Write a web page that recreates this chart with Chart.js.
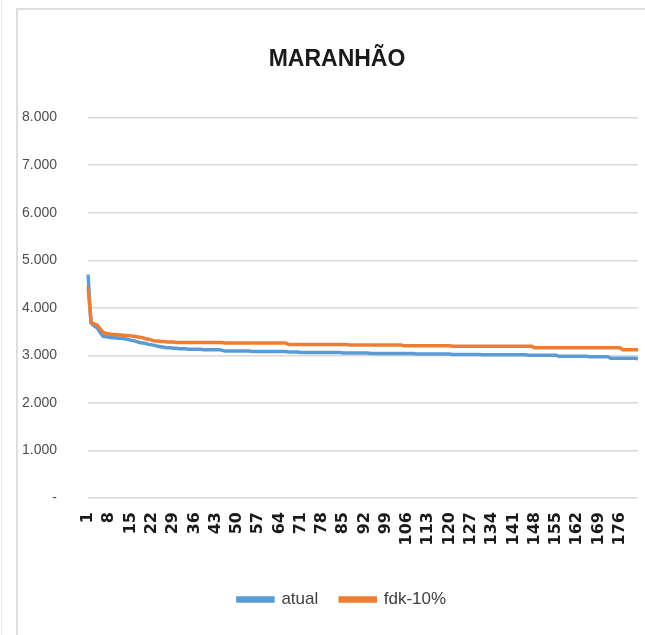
<!DOCTYPE html>
<html>
<head>
<meta charset="utf-8">
<script src="https://cdn.jsdelivr.net/npm/chart.js@4.4.1/dist/chart.umd.min.js"></script>
<style>
  html, body { margin: 0; padding: 0; background: #fff; }
  #wrap { position: relative; width: 645px; height: 635px; overflow: hidden; }
  canvas { position: absolute; left: 0; top: 0; }
  #frame { position: absolute; left: 16px; top: 8px; width: 700px; height: 700px;
           border-left: 2px solid #dedede; border-top: 2px solid #dedede; pointer-events: none; }
  #edge { position: absolute; left: 1px; top: 0; width: 1px; height: 635px; background: #e6e6e6; }
</style>
</head>
<body>
<div id="wrap">
  <canvas id="chart" width="645" height="635"></canvas>
  <div id="frame"></div>
  <div id="edge"></div>
</div>
<script>
const TITLE = "MARANHÃO";
const SERIES_NAMES = ["atual", "fdk-10%"];
const COLORS = ["#5b9bd5", "#ed7d31"];
const Y_TICKS = [0, 1000, 2000, 3000, 4000, 5000, 6000, 7000, 8000];

const ATUAL = [
  4700, 3680, 3620, 3580, 3480, 3400, 3390, 3380, 3370, 3370,
  3360, 3360, 3350, 3340, 3320, 3310, 3290, 3270, 3260, 3250,
  3230, 3220, 3210, 3190, 3180, 3170, 3160, 3160, 3150, 3150,
  3140, 3140, 3140, 3130, 3130, 3130, 3130, 3130, 3120, 3120,
  3120, 3120, 3120, 3120, 3110, 3090, 3090, 3090, 3090, 3090,
  3090, 3090, 3090, 3090, 3080, 3080, 3080, 3080, 3080, 3080,
  3080, 3080, 3080, 3080, 3080, 3080, 3070, 3070, 3070, 3070,
  3060, 3060, 3060, 3060, 3060, 3060, 3060, 3060, 3060, 3060,
  3060, 3060, 3060, 3060, 3050, 3050, 3050, 3050, 3050, 3050,
  3050, 3050, 3050, 3040, 3040, 3040, 3040, 3040, 3040, 3040,
  3040, 3040, 3040, 3040, 3040, 3040, 3040, 3040, 3030, 3030,
  3030, 3030, 3030, 3030, 3030, 3030, 3030, 3030, 3030, 3030,
  3020, 3020, 3020, 3020, 3020, 3020, 3020, 3020, 3020, 3020,
  3010, 3010, 3010, 3010, 3010, 3010, 3010, 3010, 3010, 3010,
  3010, 3010, 3010, 3010, 3010, 3000, 3000, 3000, 3000, 3000,
  3000, 3000, 3000, 3000, 3000, 2980, 2980, 2980, 2980, 2980,
  2980, 2980, 2980, 2980, 2980, 2970, 2970, 2970, 2970, 2970,
  2970, 2970, 2940, 2940, 2940, 2940, 2940, 2940, 2940, 2940,
  2940, 2930
];

const FDK = [
  4450, 3700, 3660, 3640, 3560, 3480, 3460, 3450, 3440, 3440,
  3430, 3430, 3420, 3420, 3410, 3400, 3390, 3380, 3370, 3350,
  3340, 3320, 3300, 3300, 3290, 3290, 3280, 3280, 3280, 3270,
  3270, 3270, 3270, 3270, 3270, 3270, 3270, 3270, 3270, 3270,
  3270, 3270, 3270, 3270, 3270, 3260, 3260, 3260, 3260, 3260,
  3260, 3260, 3260, 3260, 3260, 3260, 3260, 3260, 3260, 3260,
  3260, 3260, 3260, 3260, 3260, 3260, 3230, 3230, 3230, 3230,
  3230, 3230, 3230, 3230, 3230, 3230, 3230, 3230, 3230, 3230,
  3230, 3230, 3230, 3230, 3230, 3230, 3220, 3220, 3220, 3220,
  3220, 3220, 3220, 3220, 3220, 3220, 3220, 3220, 3220, 3220,
  3220, 3220, 3220, 3220, 3200, 3200, 3200, 3200, 3200, 3200,
  3200, 3200, 3200, 3200, 3200, 3200, 3200, 3200, 3200, 3200,
  3190, 3190, 3190, 3190, 3190, 3190, 3190, 3190, 3190, 3190,
  3190, 3190, 3190, 3190, 3190, 3190, 3190, 3190, 3190, 3190,
  3190, 3190, 3190, 3190, 3190, 3190, 3190, 3160, 3160, 3160,
  3160, 3160, 3160, 3160, 3160, 3160, 3160, 3160, 3160, 3160,
  3160, 3160, 3160, 3160, 3160, 3160, 3160, 3160, 3160, 3160,
  3160, 3160, 3160, 3160, 3160, 3160, 3120, 3120, 3120, 3120,
  3120, 3120
];

// categorias 1..182, rótulo visível a cada 7
const CATEGORIES = ATUAL.map((_, i) => String(i + 1));
const LABEL_STEP = 7;

const SANS = "'Liberation Sans', Arial, sans-serif";

function fmtBR(v) {
  if (v === 0) return "-";
  return String(v).replace(/\B(?=(\d{3})+(?!\d))/g, ".");
}

// no Excel o objeto do gráfico vai além da borda direita: título e legenda ficam deslocados
const centerShift = {
  id: "centerShift",
  afterLayout(chart) {
    if (chart.titleBlock) chart.titleBlock.left += 36;
    if (chart.legend) chart.legend.right += 46;
  },
};

new Chart(document.getElementById("chart"), {
  type: "line",
  data: {
    labels: CATEGORIES,
    datasets: [
      { label: SERIES_NAMES[0], data: ATUAL, borderColor: COLORS[0], backgroundColor: COLORS[0],
        borderWidth: 3.5, pointRadius: 0, tension: 0, order: 1 },
      { label: SERIES_NAMES[1], data: FDK, borderColor: COLORS[1], backgroundColor: COLORS[1],
        borderWidth: 3.5, pointRadius: 0, tension: 0, order: 0 },
    ],
  },
  plugins: [centerShift],
  options: {
    responsive: false,
    animation: false,
    layout: { padding: { left: 0, right: 7, top: 0, bottom: 17 } },
    plugins: {
      title: {
        display: true, text: TITLE, color: "#1a1a1a",
        font: { family: SANS, size: 23, weight: "bold" },
        padding: { top: 46, bottom: 44 },
      },
      legend: {
        position: "bottom",
        labels: {
          color: "#404040", font: { family: SANS, size: 17 },
          boxWidth: 35, boxHeight: 3, padding: 22,
          sort: (a, b) => a.datasetIndex - b.datasetIndex,
        },
      },
      tooltip: { enabled: false },
    },
    scales: {
      x: {
        grid: { display: false },
        border: { display: false },
        afterFit: s => { s.height = 71; s.paddingLeft = 0; s.paddingRight = 0; },
        ticks: {
          autoSkip: false, minRotation: 90, maxRotation: 90, padding: 6,
          color: "#1a1a1a", font: { family: "'DejaVu Sans'", size: 16, weight: "bold" },
          callback: (v, i) => (i % LABEL_STEP === 0 ? CATEGORIES[i] : ""),
        },
      },
      y: {
        min: Y_TICKS[0], max: Y_TICKS[Y_TICKS.length - 1],
        afterFit: s => { s.width = 88; },
        afterBuildTicks: s => { s.ticks = Y_TICKS.map(v => ({ value: v })); },
        grid: { color: "#d9d9d9", lineWidth: 1.5, drawTicks: false },
        border: { display: false },
        ticks: {
          padding: 31, color: "#4d4d4d", font: { family: SANS, size: 14 },
          callback: v => fmtBR(v),
        },
      },
    },
  },
});
</script>
</body>
</html>
